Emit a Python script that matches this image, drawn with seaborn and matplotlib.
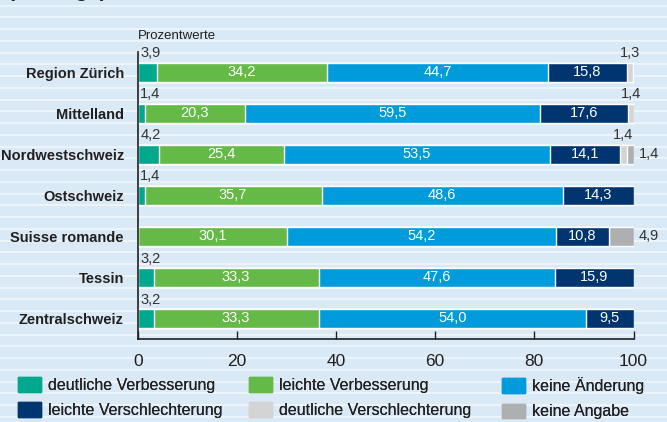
import numpy as np
import pandas as pd
import matplotlib
matplotlib.use("Agg")
import matplotlib.pyplot as plt
import seaborn as sb

# values (percent)
regions = ["Region Zürich", "Mittelland", "Nordwestschweiz", "Ostschweiz",
           "Suisse romande", "Tessin", "Zentralschweiz"]
segments = ["deutliche Verbesserung", "leichte Verbesserung", "keine Änderung",
            "leichte Verschlechterung", "deutliche Verschlechterung", "keine Angabe"]
deutl_verb = [3.9, 1.4, 4.2, 1.4, 0.0, 3.2, 3.2]
leicht_verb = [34.2, 20.3, 25.4, 35.7, 30.1, 33.3, 33.3]
keine_aend = [44.7, 59.5, 53.5, 48.6, 54.2, 47.6, 54.0]
leicht_versch = [15.8, 17.6, 14.1, 14.3, 10.8, 15.9, 9.5]
deutl_versch = [1.3, 1.4, 1.4, 0.0, 0.0, 0.0, 0.0]
keine_angabe = [0.0, 0.0, 1.4, 0.0, 4.9, 0.0, 0.0]

colors = ["#00A88E", "#64B947", "#009BDB", "#00356F", "#D4D4D4", "#ADAFB1"]
ink = "#231F20"

data = pd.DataFrame({"region": regions,
                     segments[0]: deutl_verb, segments[1]: leicht_verb,
                     segments[2]: keine_aend, segments[3]: leicht_versch,
                     segments[4]: deutl_versch, segments[5]: keine_angabe})
cum = data[segments].cumsum(axis=1)
cum["region"] = data["region"]

plt.rcParams["font.family"] = ["Liberation Sans", "DejaVu Sans"]

fig = plt.figure(figsize=(6.67, 4.22), dpi=100)

# striped background
bg = fig.add_axes([0, 0, 1, 1], zorder=-5)
bg.set_xlim(0, 667)
bg.set_ylim(422, 0)
bg.set_facecolor("#D9E9F5")
bg.hlines(np.arange(5.5, 422, 11.75), 0, 667, color="#F2F7FB", lw=1.1)
for s in bg.spines.values():
    s.set_visible(False)
bg.set_xticks([])
bg.set_yticks([])

# cut-off headline at the very top
fig.text(0.012, 1.0 + 3 / 422, "(Umfrage)", fontsize=15, fontweight="bold",
         va="baseline", ha="left", color=ink)

ax = fig.add_axes([137.7 / 667, 1 - 339 / 422, 495.8 / 667, (339 - 51.7) / 422])
ax.set_facecolor("none")

# stacked bars: draw cumulative sums from the longest to the shortest
for i in range(len(segments) - 1, -1, -1):
    sb.barplot(data=cum, x=segments[i], y="region", orient="h", color=colors[i],
               width=0.46, edgecolor="white", linewidth=1.0, ax=ax, saturation=1)

ax.set_xlim(0, 100)
ax.set_ylim(6.5, -0.5)
ax.set_xlabel("")
ax.set_ylabel("")
ax.set_xticks([0, 20, 40, 60, 80, 100])
ax.tick_params(axis="x", direction="in", length=5.5, width=1.0, color=ink,
               labelsize=12.5, pad=11, labelcolor=ink)
ax.tick_params(axis="y", length=0, pad=10)
for lab in ax.get_yticklabels():
    lab.set_fontweight("bold")
    lab.set_fontsize(10.5)
    lab.set_color(ink)
for side in ["top", "right"]:
    ax.spines[side].set_visible(False)
for side in ["left", "bottom"]:
    ax.spines[side].set_color(ink)
    ax.spines[side].set_linewidth(1.2)


def fmt(v):
    return f"{v:.1f}".replace(".", ",")


vals = data[segments].to_numpy()
for r in range(len(regions)):
    start = 0.0
    for j in range(len(segments)):
        v = vals[r, j]
        if v <= 0:
            continue
        if v >= 5:
            ax.text(start + v / 2, r, fmt(v), color="white", ha="center",
                    va="center", fontsize=10.5)
        elif j == len(segments) - 1:
            ax.text(100 + 1.0, r, fmt(v), color="#333333", ha="left",
                    va="center", fontsize=10.5)
        elif j == 0:
            ax.text(0.5, r - 0.29, fmt(v), color="#333333", ha="left",
                    va="bottom", fontsize=10.5)
        else:
            ax.text(start + v / 2, r - 0.29, fmt(v), color="#333333",
                    ha="center", va="bottom", fontsize=10.5)
        start += v

ax.text(0, -0.74, "Prozentwerte", ha="left", va="bottom", fontsize=9.5,
        color=ink)

# legend: three columns, two rows
handles = [plt.Rectangle((0, 0), 1, 1, color=c) for c in colors]
col_x = [18, 249, 502]
for k, x0 in enumerate(col_x):
    idx = [k, k + 3]
    leg = fig.legend([handles[i] for i in idx], [segments[i] for i in idx],
                     loc="upper left", bbox_to_anchor=(x0 / 667, 1 - 377 / 422),
                     frameon=False, fontsize=11.5, handlelength=1.45,
                     handleheight=1.05, handletextpad=0.45, labelspacing=0.6,
                     borderpad=0, borderaxespad=0, labelcolor=ink)
    fig.add_artist(leg)

plt.savefig("out.png", dpi=100)
